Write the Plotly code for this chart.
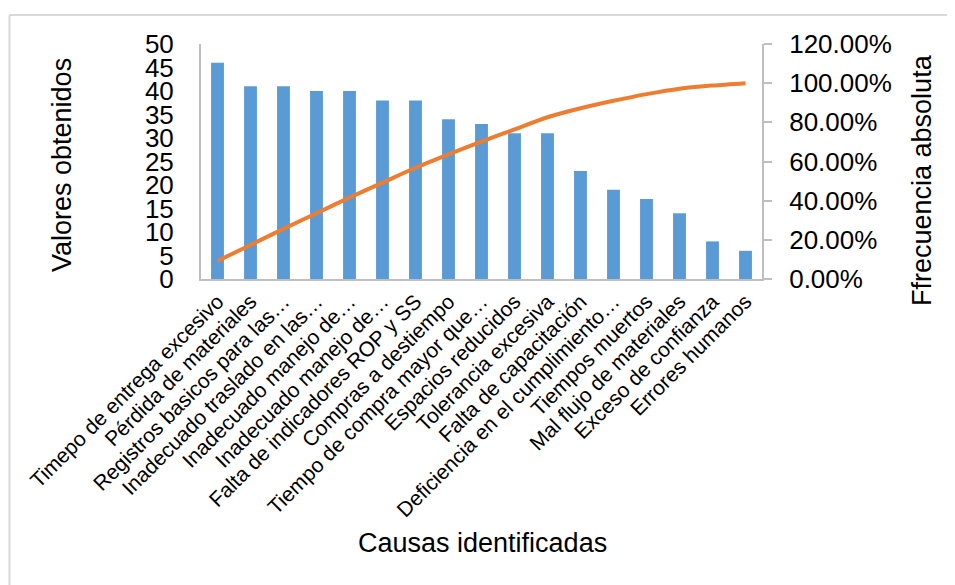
import plotly.graph_objects as go

categories = [
    "Timepo de entrega excesivo",
    "Pérdida de materiales",
    "Registros basicos para las…",
    "Inadecuado traslado en las…",
    "Inadecuado manejo de…",
    "Inadecuado manejo de…",
    "Falta de indicadores ROP y SS",
    "Compras a destiempo",
    "Tiempo de compra mayor que…",
    "Espacios reducidos",
    "Tolerancia excesiva",
    "Falta de capacitación",
    "Deficiencia en el cumplimiento…",
    "Tiempos muertos",
    "Mal flujo de materiales",
    "Exceso de confianza",
    "Errores humanos",
]
valores = [46, 41, 41, 40, 40, 38, 38, 34, 33, 31, 31, 23, 19, 17, 14, 8, 6]
acumulado = [0.092, 0.174, 0.256, 0.336, 0.416, 0.492, 0.568, 0.636, 0.702, 0.764,
             0.826, 0.872, 0.910, 0.944, 0.972, 0.988, 1.000]
left_ticks = list(range(0, 55, 5))
right_ticks = [0, 0.2, 0.4, 0.6, 0.8, 1.0, 1.2]

FONT = "Liberation Sans, Arial, sans-serif"
AXIS_GRAY = "#BFBFBF"
pos = list(range(len(categories)))

fig = go.Figure()
fig.add_trace(go.Bar(x=pos, y=valores, marker=dict(color="#5B9BD5", line=dict(width=0)),
                     width=0.39, name="Valores", yaxis="y"))
fig.add_trace(go.Scatter(x=pos, y=acumulado, mode="lines",
                         line=dict(color="#ED7D31", width=4, shape="spline", smoothing=0.8),
                         name="Acumulado", yaxis="y2"))

OFF = 8  # page body margin
# plot area in screen px: x 201..762, y 44..279
L, T = 201 - OFF, 44 - OFF
R, B = 955 - (762 - OFF), 585 - (279 - OFF)
W, H = 955 - L - R, 585 - T - B

def px(x):
    return (x - OFF - L) / W

def py(y):
    return (T + H - (y - OFF)) / H

fig.update_layout(
    width=955, height=585,
    margin=dict(l=L, r=R, t=T, b=B, autoexpand=False),
    paper_bgcolor="white", plot_bgcolor="white",
    showlegend=False,
    font=dict(family=FONT, color="#000000"),
    xaxis=dict(range=[-0.5, len(categories) - 0.5], tickvals=pos, ticktext=categories,
               tickangle=-45, tickfont=dict(size=21, family=FONT, color="#000"),
               showline=True, linecolor=AXIS_GRAY, linewidth=2, ticks="", showgrid=False,
               zeroline=False, fixedrange=True),
    yaxis=dict(range=[0, 50], tickvals=left_ticks, showline=True, linecolor=AXIS_GRAY, linewidth=2,
               ticks="", showgrid=False, zeroline=False, tickfont=dict(size=26, family=FONT, color="#000"),
               ticklabelstandoff=20),
    yaxis2=dict(range=[0, 1.2], tickvals=right_ticks, tickformat=".2%", overlaying="y", side="right",
                showline=True, linecolor=AXIS_GRAY, linewidth=2, ticks="outside", ticklen=8,
                tickcolor=AXIS_GRAY, tickwidth=2, showgrid=False, zeroline=False,
                tickfont=dict(size=26, family=FONT, color="#000"), ticklabelstandoff=12),
    bargap=0.61,
)

fig.add_annotation(text="Valores obtenidos", x=px(62), y=py(165), xref="paper", yref="paper",
                   textangle=-90, showarrow=False, font=dict(size=27, family=FONT, color="#000"),
                   xanchor="center", yanchor="middle")
fig.add_annotation(text="Ffrecuencia absoluta", x=px(922), y=py(180), xref="paper", yref="paper",
                   textangle=-90, showarrow=False, font=dict(size=27, family=FONT, color="#000"),
                   xanchor="center", yanchor="middle")
fig.add_annotation(text="Causas identificadas", x=px(482), y=py(543), xref="paper", yref="paper",
                   showarrow=False, font=dict(size=27, family=FONT, color="#000"),
                   xanchor="center", yanchor="middle")

# chart frame (left and top edges visible)
fig.add_shape(type="line", xref="paper", yref="paper", x0=px(9.5), x1=px(9.5), y0=py(15), y1=py(600),
              line=dict(color="#D9D9D9", width=2))
fig.add_shape(type="line", xref="paper", yref="paper", x0=px(9.5), x1=px(970), y0=py(15), y1=py(15),
              line=dict(color="#D9D9D9", width=2))

fig.write_html("out.html")
